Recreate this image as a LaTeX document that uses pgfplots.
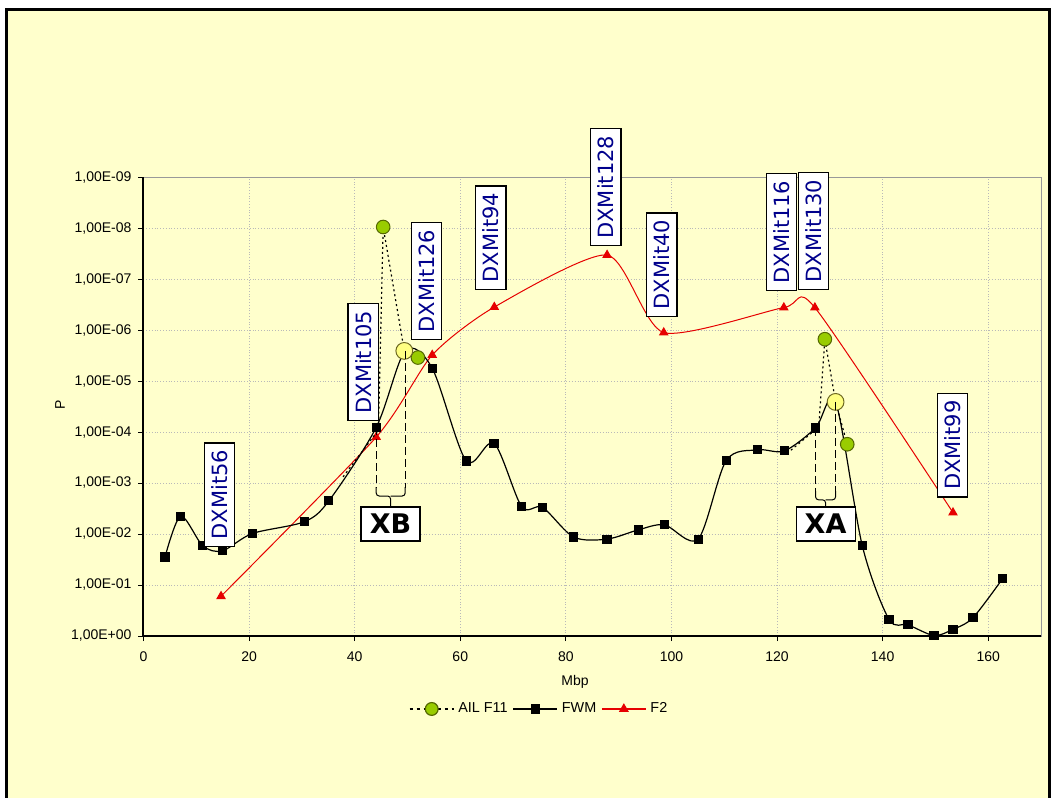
\documentclass[border=0pt]{standalone}
\usepackage{pgfplots}
\pgfplotsset{compat=1.18}
\usepackage{fontspec}
\setmainfont{Liberation Sans}
\newfontfamily\verd{DejaVu Sans}
\definecolor{bg}{RGB}{255,255,204}
\definecolor{navy}{RGB}{0,0,140}
\definecolor{ailgreen}{RGB}{153,204,0}
\definecolor{ailedge}{RGB}{85,105,0}
\definecolor{hilite}{RGB}{255,255,130}
\definecolor{f2red}{RGB}{230,0,0}
\pgfplotstableread{
x y
4.08 1.55
7.05 2.35
11.22 1.77
14.94 1.67
20.63 2.01
30.43 2.24
35.11 2.65
44.08 4.09
49.57 5.59
54.69 5.25
61.14 3.43
66.39 3.78
71.62 2.54
75.60 2.52
81.48 1.94
87.81 1.90
93.69 2.08
98.67 2.18
105.06 1.90
110.37 3.44
116.36 3.65
121.42 3.63
127.30 4.08
131.09 4.59
136.15 1.77
141.19 0.33
144.80 0.22
149.72 0.01
153.32 0.13
157.12 0.36
162.69 1.12
}\fwm
\pgfplotstableread{
x y
14.69 0.78
44.08 3.90
54.69 5.51
66.45 6.45
87.81 7.47
98.54 5.95
121.29 6.44
127.17 6.44
153.33 2.42
}\ftwo
\tikzset{dx/.style={draw=black, line width=0.6pt, fill=white, rotate=90, inner sep=3.5pt, text=navy, font=\verd\fontsize{10.5}{12}\selectfont}}
\begin{document}
\begin{tikzpicture}
\useasboundingbox (-71.75pt,-81pt) rectangle (456.25pt,318pt);
\fill[white] (-71.75pt,-81pt) rectangle (456.25pt,318pt);
\draw[line width=1.5pt, fill=bg] (-68.25pt,-95pt) rectangle (452.75pt,313pt);
\begin{axis}[
  at={(0pt,0pt)}, anchor=south west,
  scale only axis, width=448.75pt, height=229.5pt,
  xmin=0, xmax=170, ymin=0, ymax=9,
  clip mode=individual,
  axis line style={draw=gray!80, line width=0.5pt},
  xtick={0,20,...,160}, xticklabels={0,20,40,60,80,100,120,140,160},
  ytick={0,1,...,9},
  yticklabels={{1,00E+00},{1,00E-01},{1,00E-02},{1,00E-03},{1,00E-04},{1,00E-05},{1,00E-06},{1,00E-07},{1,00E-08},{1,00E-09}},
  tick align=outside, xtick pos=left, ytick pos=left,
  major tick length=2.5pt, tick style={black, line width=0.5pt},
  ticklabel style={font=\fontsize{7}{8}\selectfont},
  xticklabel style={yshift=-2pt},
  grid=major, major grid style={densely dotted, gray!55, line width=0.5pt},
  legend style={at={(axis description cs:0.442,-0.159)}, anchor=center, draw=none, fill=none,
    legend columns=3, font=\fontsize{7.2}{8}\selectfont,
    /tikz/every even column/.append style={column sep=0.5pt}},
  legend image code/.code={\draw[mark repeat=2,mark phase=2] plot coordinates {(0pt,0pt) (11pt,0pt) (22pt,0pt)};},
]
\addlegendimage{black, line width=0.6pt, dash pattern=on 1.5pt off 2pt, mark=*, mark size=3.2pt, mark options={solid, fill=ailgreen, draw=ailedge}}
\addlegendentry{AIL F11}
\addlegendimage{black, line width=0.6pt, mark=square*, mark size=2pt}
\addlegendentry{FWM}
\addlegendimage{f2red, line width=0.6pt, mark=triangle*, mark size=2.3pt}
\addlegendentry{F2}

% F2
\addplot[forget plot, f2red, line width=0.5pt, smooth, tension=0.4, mark=triangle*, mark size=2.3pt] table {\ftwo};
% FWM
\addplot[forget plot, black, line width=0.6pt, smooth, tension=0.5, mark=square*, mark size=2pt] table {\fwm};
% AIL F11 lines
\addplot[forget plot, black, line width=0.6pt, dash pattern=on 1pt off 1.5pt] coordinates {(37.8,3.12) (44.5,4.04) (45.4,8.02) (49.4,5.59) (51.98,5.46)};
\addplot[forget plot, black, line width=0.6pt, dash pattern=on 1pt off 1.5pt] coordinates {(121.9,3.58) (127.9,4.1) (129.06,5.82) (131.09,4.59) (133.3,3.76)};
% AIL F11 marks
\addplot[forget plot, only marks, mark=*, mark size=3.4pt, mark options={fill=ailgreen, draw=ailedge, line width=0.5pt}] coordinates {(45.4,8.02) (51.98,5.46) (129.06,5.82) (133.3,3.76)};
% highlighted points
\addplot[forget plot, only marks, mark=*, mark size=4.2pt, mark options={fill=hilite, draw=olive!70!black, line width=0.5pt}] coordinates {(49.4,5.59) (131.09,4.59)};

% left and bottom axis lines in black
\draw[black, line width=1pt] (rel axis cs:0,1) -- (rel axis cs:0,0) -- (rel axis cs:1,0);

% XB bracket
\draw[black, line width=0.6pt, dash pattern=on 4pt off 2pt] (axis cs:44.08,4.09) -- (axis cs:44.08,2.9);
\draw[black, line width=0.6pt, dash pattern=on 4pt off 2pt] (axis cs:49.57,5.59) -- (axis cs:49.57,2.9);
\draw[black, line width=0.5pt, rounded corners=1.5pt] (axis cs:44.08,2.92) |- (axis cs:46.8,2.745) -- (axis cs:46.8,2.55);
\draw[black, line width=0.5pt, rounded corners=1.5pt] (axis cs:49.57,2.92) |- (axis cs:46.8,2.745);
\node[draw=black, line width=0.6pt, fill=white, minimum width=29.5pt, minimum height=17pt, inner sep=0pt, font=\verd\bfseries\fontsize{13.5}{14}\selectfont] at (axis cs:46.8,2.196) {XB};
% XA bracket
\draw[black, line width=0.6pt, dash pattern=on 4pt off 2pt] (axis cs:127.30,4.08) -- (axis cs:127.30,2.82);
\draw[black, line width=0.6pt, dash pattern=on 4pt off 2pt] (axis cs:131.09,4.59) -- (axis cs:131.09,2.82);
\draw[black, line width=0.5pt, rounded corners=1.5pt] (axis cs:127.30,2.84) |- (axis cs:129.2,2.67) -- (axis cs:129.2,2.55);
\draw[black, line width=0.5pt, rounded corners=1.5pt] (axis cs:131.09,2.84) |- (axis cs:129.2,2.67);
\node[draw=black, line width=0.6pt, fill=white, minimum width=29.5pt, minimum height=17pt, inner sep=0pt, font=\verd\bfseries\fontsize{13.5}{14}\selectfont] at (axis cs:129.2,2.196) {XA};

% marker labels
\node[dx] at (axis cs:14.41,2.77) {DXMit56};
\node[dx] at (axis cs:41.61,5.37) {DXMit105};
\node[dx] at (axis cs:53.65,6.96) {DXMit126};
\node[dx] at (axis cs:65.78,7.81) {DXMit94};
\node[dx] at (axis cs:87.58,8.80) {DXMit128};
\node[dx] at (axis cs:98.20,7.28) {DXMit40};
\node[dx] at (axis cs:120.85,7.92) {DXMit116};
\node[dx] at (axis cs:126.92,7.94) {DXMit130};
\node[dx] at (axis cs:153.27,3.74) {DXMit99};
\end{axis}
\node[rotate=90, font=\fontsize{7}{8}\selectfont] at (-41.75pt,115.5pt) {P};
\node[font=\fontsize{7}{8}\selectfont] at (215.75pt,-23pt) {Mbp};
\end{tikzpicture}
\end{document}
